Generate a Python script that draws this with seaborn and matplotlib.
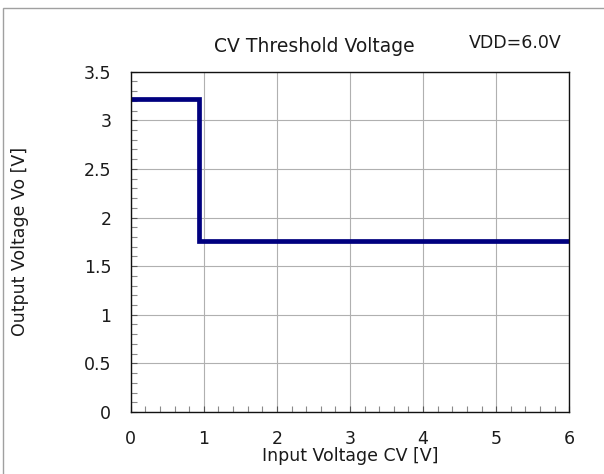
import matplotlib
matplotlib.use("Agg")
import matplotlib.pyplot as plt
from matplotlib.patches import Rectangle
from matplotlib.ticker import MultipleLocator
import seaborn as sns

# Step response of the output against the CV input
cv_input = [0.0, 0.93, 0.93, 6.0]
vo_output = [3.22, 3.22, 1.76, 1.76]

x_ticks = [0, 1, 2, 3, 4, 5, 6]
y_ticks = [0, 0.5, 1, 1.5, 2, 2.5, 3, 3.5]
y_tick_labels = ["0", "0.5", "1", "1.5", "2", "2.5", "3", "3.5"]

sns.set_theme(style="white")
plt.rcParams["font.family"] = ["DejaVu Sans"]

W, H = 604, 474
TXT = "#1a1a1a"
fig = plt.figure(figsize=(W / 100, H / 100), dpi=100)
ax = fig.add_axes([130.7 / W, 1 - 412 / H, (569.3 - 130.7) / W, (412 - 71.7) / H])

sns.lineplot(x=cv_input, y=vo_output, sort=False, estimator=None, ax=ax,
             color="#00007f", linewidth=3.4, solid_joinstyle="miter",
             solid_capstyle="butt")

ax.set_xlim(0, 6)
ax.set_ylim(0, 3.5)
ax.set_xticks(x_ticks)
ax.set_yticks(y_ticks)
ax.set_yticklabels(y_tick_labels)
ax.xaxis.set_minor_locator(MultipleLocator(0.2))
ax.yaxis.set_minor_locator(MultipleLocator(0.1))

ax.grid(True, which="major", color="#b0b0b0", linewidth=0.8)
ax.set_axisbelow(True)
ax.tick_params(which="both", bottom=True, left=True, top=False, right=False,
               direction="in")
ax.tick_params(which="major", length=4, width=0.8, color="#555555",
               labelsize=12.5, labelcolor=TXT)
ax.tick_params(axis="x", which="major", pad=13)
ax.tick_params(axis="y", which="major", pad=14)
ax.tick_params(which="minor", length=4, width=0.8, color="#8a8a8a")
for side in ["left", "bottom", "top", "right"]:
    ax.spines[side].set_color("#111111")
    ax.spines[side].set_linewidth(1.0)

ax.set_xlabel("Input Voltage CV [V]", fontsize=12.5, color=TXT, va="center")
ax.xaxis.set_label_coords(0.5, (412 - 456) / (412 - 71.7))
ax.set_ylabel("Output Voltage Vo [V]", fontsize=12.5, color=TXT,
              va="center", ha="center")
ax.yaxis.set_label_coords((20 - 130.7) / (569.3 - 130.7), 0.5)

fig.text(314 / W, 1 - 46 / H, "CV Threshold Voltage", ha="center", va="center",
         fontsize=13.5, color=TXT)
fig.text(562 / W, 1 - 43 / H, "VDD=6.0V", ha="right", va="center",
         fontsize=12.5, color=TXT)

# Light frame around the figure
fig.patches.append(Rectangle((3 / W, -0.1), 1.2, 1 - 8 / H + 0.1,
                             transform=fig.transFigure, fill=False,
                             edgecolor="#a0a0a0", linewidth=1.0))

fig.savefig("out.png", dpi=100)
